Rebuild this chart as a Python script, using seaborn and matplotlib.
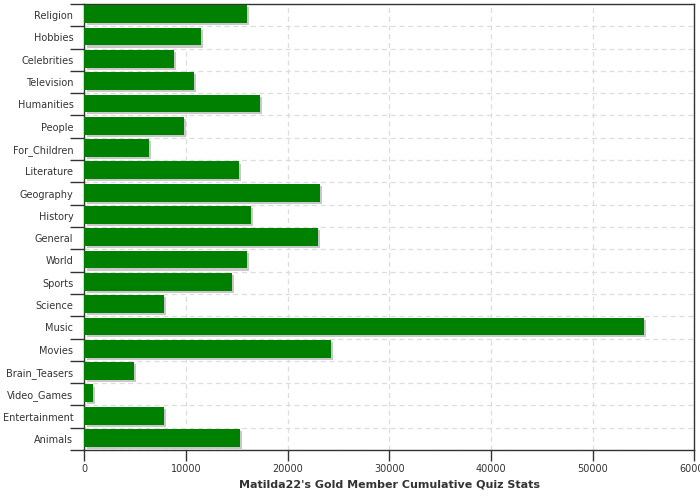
import matplotlib
matplotlib.use("Agg")
import matplotlib.pyplot as plt
import matplotlib.patheffects as pe
import seaborn as sns
import pandas as pd
import numpy as np

categories = ["Religion", "Hobbies", "Celebrities", "Television", "Humanities", "People",
              "For_Children", "Literature", "Geography", "History", "General", "World",
              "Sports", "Science", "Music", "Movies", "Brain_Teasers", "Video_Games",
              "Entertainment", "Animals"]
values = [16020, 11480, 8820, 10790, 17270, 9800, 6350, 15230, 23130, 16420, 22930,
          16020, 14540, 7830, 55040, 24220, 4870, 820, 7830, 15330]
x_ticks = [0, 10000, 20000, 30000, 40000, 50000, 60000]
title = "Matilda22's Gold Member Cumulative Quiz Stats"

df = pd.DataFrame({"category": categories, "value": values})

sns.set_style("white")
plt.rcParams['font.family'] = ['DejaVu Sans']

fig = plt.figure(figsize=(7, 5), dpi=100)
ax = fig.add_axes([0.1207, 0.1, 0.8713, 0.892])

sns.barplot(data=df, x="value", y="category", orient="h", color="#008000",
            saturation=1, width=0.8, ax=ax, zorder=3)
for p in ax.patches:
    p.set_edgecolor("none")
    p.set_y(p.get_y() - 0.04)
    p.set_path_effects([pe.SimplePatchShadow(offset=(1.5, -1.5), shadow_rgbFace="#c8c8c8", alpha=1.0),
                        pe.Normal()])

ax.set_xlim(0, 60000)
ax.set_ylim(len(categories) - 0.5, -0.5)
ax.set_xticks(x_ticks)
ax.set_xticklabels([str(t) for t in x_ticks])
ax.set_yticks(np.arange(-0.5, len(categories), 1.0), minor=True)

ax.tick_params(axis="y", which="major", left=True, length=0, pad=8, labelsize=7, labelcolor="#333333")
ax.tick_params(axis="y", which="minor", left=True, length=10, width=1, color="#333333", direction="out")
ax.tick_params(axis="x", which="major", bottom=True, length=8, width=1, color="#333333", direction="out",
               labelsize=7, labelcolor="#333333", pad=2)

ax.grid(False)
ax.grid(True, axis="x", which="major", linestyle=(0, (4, 3)), color="#dddddd", linewidth=0.9, zorder=0)
ax.grid(True, axis="y", which="minor", linestyle=(0, (4, 3)), color="#dddddd", linewidth=0.9, zorder=0)
ax.set_axisbelow(True)

for s in ax.spines.values():
    s.set_visible(True)
    s.set_color("#333333")
    s.set_linewidth(1)

ax.set_ylabel("")
ax.set_xlabel(title, fontsize=8, fontweight="bold", color="#333333", labelpad=4)

fig.savefig("out.png", dpi=100)
